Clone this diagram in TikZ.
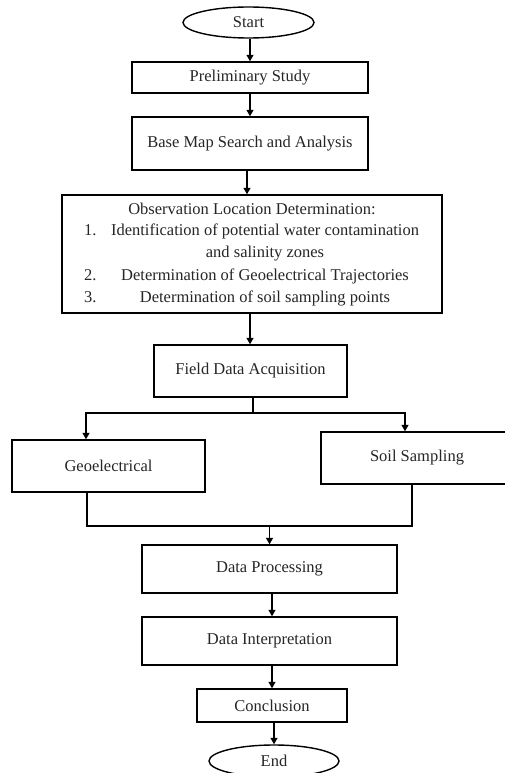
\documentclass[tikz,border=0pt]{standalone}
\usepackage{fontspec}
\setmainfont{Liberation Serif}
\usetikzlibrary{shapes.geometric,arrows.meta,calc}
\begin{document}
\begin{tikzpicture}[x=1pt,y=-1pt,
  font=\fontsize{16.5}{20}\selectfont,
  box/.style={draw, line width=1.4pt, rectangle, inner sep=0pt, align=center, text=black!85},
  term/.style={draw, line width=1.4pt, ellipse, inner sep=0pt, text=black!85},
  txt/.style={inner sep=0pt, text=black!85},
  conn/.style={line width=1.3pt},
  arr/.style={line width=1.3pt, -{Triangle[length=6.5pt,width=7pt]}}]
\clip (0,0) rectangle (505,773);
\fill[white] (0,0) rectangle (505,773);
% nodes
\node[term, minimum width=131pt, minimum height=31pt] (start) at (248.5,22.5) {Start};
\node[box, minimum width=236pt, minimum height=31pt] (prelim) at (250,77.5) {Preliminary Study};
\node[box, minimum width=236pt, minimum height=53pt] (base) at (250,143.5) {Base Map Search and Analysis};
\node[box, minimum width=380pt, minimum height=118pt] (obs) at (252,254) {};
\node[txt, anchor=base] (o0) at (252,214) {Observation Location Determination:};
\node[txt, anchor=base west] (n1) at (84,235) {1.};
\node[txt, anchor=base] (o1) at (265,235) {Identification of potential water contamination};
\node[txt, anchor=base] (o1b) at (265,257) {and salinity zones};
\node[txt, anchor=base west] (n2) at (84,280) {2.};
\node[txt, anchor=base] (o2) at (265,280) {Determination of Geoelectrical Trajectories};
\node[txt, anchor=base west] (n3) at (84,302) {3.};
\node[txt, anchor=base] (o3) at (265,302) {Determination of soil sampling points};
\node[box, minimum width=193pt, minimum height=52pt] (field) at (250.5,371) {Field Data Acquisition};
\node[box, minimum width=193pt, minimum height=52pt] (geo) at (108.5,466) {Geoelectrical};
\node[box, minimum width=192pt, minimum height=52pt] (soil) at (417,458) {Soil Sampling};
\node[box, minimum width=255pt, minimum height=48pt] (proc) at (269.5,569) {Data Processing};
\node[box, minimum width=255pt, minimum height=48pt] (interp) at (269.5,641) {Data Interpretation};
\node[box, minimum width=150pt, minimum height=33pt] (concl) at (272,705.5) {Conclusion};
\node[term, minimum width=130pt, minimum height=32pt] (end) at (274,761) {End};
% connectors
\draw[arr] ([xshift=1.5pt]start.south) -- ([xshift=1.5pt]start.south |- prelim.north);
\draw[arr] (prelim.south) -- (prelim.south |- base.north);
\draw[arr] ([xshift=-3pt]base.south) -- ([xshift=-3pt]base.south |- obs.north);
\draw[arr] ([xshift=-2pt]obs.south) -- ([xshift=-2pt]obs.south |- field.north);
\coordinate (fj) at (253,413);
\draw[conn] ([xshift=2.5pt]field.south) -- (fj);
\draw[arr] (fj) -| ([xshift=-22.5pt]geo.north);
\draw[arr] (fj) -| ([xshift=-12pt]soil.north);
\coordinate (mj) at (269.5,526);
\draw[conn] ([xshift=-21.5pt]geo.south) |- (mj);
\draw[conn] ([xshift=-5pt]soil.south) |- (mj);
\draw[arr] (mj) -- (proc.north);
\draw[arr] ([xshift=2.5pt]proc.south) -- ([xshift=2.5pt]proc.south |- interp.north);
\draw[arr] ([xshift=2.5pt]interp.south) -- ([xshift=2.5pt]interp.south |- concl.north);
\draw[arr] ([xshift=2pt]concl.south) -- ([xshift=2pt]concl.south |- end.north);
\end{tikzpicture}
\end{document}
